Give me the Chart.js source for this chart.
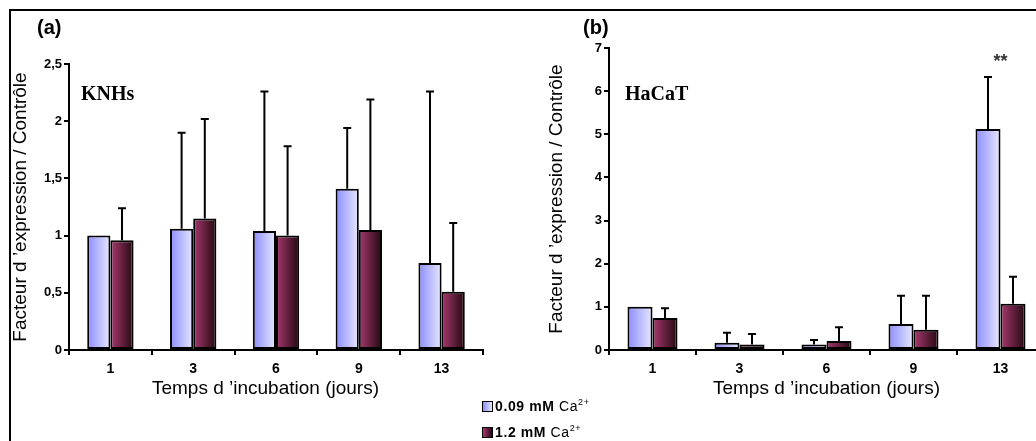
<!DOCTYPE html>
<html>
<head>
<meta charset="utf-8">
<script src="https://cdn.jsdelivr.net/npm/chart.js@4.4.1/dist/chart.umd.min.js"></script>
<style>
  body { margin: 0; width: 1036px; height: 441px; overflow: hidden; position: relative; background: #fff; font-family: "Liberation Sans", Arial, sans-serif; }
  #frame { position: absolute; left: 9px; top: 9px; width: 1100px; height: 500px; border-left: 2px solid #000; border-top: 2px solid #000; }
  canvas { position: absolute; left: 0; top: 0; }
  #legend { position: absolute; left: 482px; top: 394px; font-size: 14px; letter-spacing: 0.6px; color: #000; }
  #legend div { height: 26px; line-height: 16px; white-space: nowrap; }
  #legend .sw { display: inline-block; width: 9px; height: 9px; border: 1px solid #000; vertical-align: -1px; margin-right: 2px; }
  #legend sup { font-size: 9px; }
</style>
</head>
<body>
<div id="frame"></div>
<canvas id="chartA" width="1036" height="441"></canvas>
<canvas id="chartB" width="1060" height="441"></canvas>
<div id="legend"></div>
<script>
// données
const categories = ['1', '3', '6', '9', '13'];
const seriesNames = ['0.09 mM', '1.2 mM'];
const ion = 'Ca';
const ionCharge = '2+';

// (a) KNHs
const knhsLow = [1.0, 1.06, 1.04, 1.41, 0.76];
const knhsHigh = [0.96, 1.15, 1.0, 1.05, 0.51];
const knhsLowErr = [0, 0.84, 1.22, 0.53, 1.50];
const knhsHighErr = [0.28, 0.87, 0.78, 1.14, 0.60];
const knhsTicks = ['0', '0,5', '1', '1,5', '2', '2,5'];

// (b) HaCaT
const hacatLow = [1.0, 0.17, 0.13, 0.60, 5.12];
const hacatHigh = [0.74, 0.13, 0.21, 0.47, 1.07];
const hacatLowErr = [0, 0.23, 0.10, 0.66, 1.21];
const hacatHighErr = [0.23, 0.24, 0.32, 0.79, 0.63];
const hacatTicks = ['0', '1', '2', '3', '4', '5', '6', '7'];

const xTitle = 'Temps d \u2019incubation (jours)';
const yTitle = 'Facteur d \u2019expression / Contrôle';

const lowColors = ['#8c8cff', '#e8e8ff'];
const highColors = ['#a8386e', '#220810'];
const FONT = '"Liberation Sans", Arial, sans-serif';

// dégradé horizontal sur chaque barre (positions prises sur l'élément)
function barFill(colors) {
  return function (ctx) {
    const el = ctx.element;
    if (!el || el.x == null || isNaN(el.x) || !el.width) return colors[0];
    const g = ctx.chart.ctx.createLinearGradient(el.x - el.width / 2, 0, el.x + el.width / 2, 0);
    g.addColorStop(0, colors[0]);
    g.addColorStop(1, colors[1]);
    return g;
  };
}

const errorBars = {
  id: 'errorBars',
  afterDatasetsDraw(chart) {
    const ctx = chart.ctx;
    const y = chart.scales.y;
    ctx.save();
    ctx.strokeStyle = '#000';
    ctx.lineWidth = 2;
    chart.data.datasets.forEach((ds, di) => {
      chart.getDatasetMeta(di).data.forEach((bar, i) => {
        const e = ds.errors[i];
        if (!e) return;
        const top = y.getPixelForValue(ds.data[i] + e);
        ctx.beginPath();
        ctx.moveTo(bar.x, bar.y);
        ctx.lineTo(bar.x, top);
        ctx.moveTo(bar.x - 4, top);
        ctx.lineTo(bar.x + 4, top);
        ctx.stroke();
      });
    });
    ctx.restore();
  }
};

const panelText = {
  id: 'panelText',
  afterDraw(chart, args, opts) {
    const ctx = chart.ctx;
    const area = chart.chartArea;
    ctx.save();
    ctx.fillStyle = '#000';
    ctx.textBaseline = 'middle';
    ctx.font = 'bold 20px ' + FONT;
    ctx.fillText(opts.panel, area.left - opts.panelDx, 28);
    ctx.textBaseline = 'alphabetic';
    ctx.font = 'bold 20px "Liberation Serif", "Times New Roman", serif';
    ctx.fillText(opts.cell, area.left + opts.cellDx, 100);
    if (opts.star) {
      const i = opts.star.index;
      const ds = chart.data.datasets[0];
      const x = chart.scales.x.getPixelForValue(i);
      const y = chart.scales.y.getPixelForValue(ds.data[i] + ds.errors[i]);
      ctx.fillStyle = '#333';
      ctx.font = 'bold 18px ' + FONT;
      ctx.textAlign = 'center';
      ctx.textBaseline = 'middle';
      ctx.fillText(opts.star.text, x, y - 15);
    }
    ctx.restore();
  }
};

function makeChart(id, cfg) {
  const chart = new Chart(document.getElementById(id), {
    type: 'bar',
    data: {
      labels: categories,
      datasets: [
        { label: seriesNames[0], data: cfg.low, errors: cfg.lowErr, backgroundColor: barFill(lowColors) },
        { label: seriesNames[1], data: cfg.high, errors: cfg.highErr, backgroundColor: barFill(highColors) }
      ].map(d => Object.assign(d, {
        borderColor: '#000',
        borderWidth: 2,
        borderSkipped: false,
        barPercentage: 1,
        categoryPercentage: cfg.catPct
      }))
    },
    options: {
      responsive: false,
      animation: false,
      events: [],
      layout: { padding: cfg.padding },
      plugins: {
        legend: { display: false },
        tooltip: { enabled: false },
        panelText: cfg.text
      },
      scales: {
        x: {
          afterFit(s) { s.height = 50; },
          grid: { display: true, offset: true, drawOnChartArea: false, drawTicks: true, tickLength: 5, color: '#000', lineWidth: 2 },
          border: { display: true, color: '#000', width: 2 },
          ticks: { color: '#000', font: { family: FONT, size: 14, weight: 'bold' }, padding: 6 },
          title: { display: true, text: cfg.xTitle, color: '#000', font: { family: FONT, size: 19 }, padding: 0 }
        },
        y: {
          min: 0,
          max: cfg.max,
          afterFit(s) { s.width = 69; },
          ticks: { stepSize: cfg.step, color: '#000', font: { family: FONT, size: 13, weight: 'bold' }, padding: 2,
                   callback: (v, i) => cfg.ticks[i] },
          grid: { display: true, drawOnChartArea: false, drawTicks: true, tickLength: 5, color: '#000', lineWidth: 2 },
          border: { display: true, color: '#000', width: 2 },
          title: { display: true, text: yTitle, color: '#000', font: { family: FONT, size: 19 }, padding: { top: cfg.yTitlePad, bottom: 0 } }
        }
      }
    },
    plugins: [errorBars, panelText]
  });
  chart.update('none');
  return chart;
}

makeChart('chartA', {
  low: knhsLow, high: knhsHigh, lowErr: knhsLowErr, highErr: knhsHighErr,
  max: 2.5, step: 0.5, ticks: knhsTicks, catPct: 0.56,
  padding: { left: 0, right: 1036 - 483, top: 64, bottom: 41 },
  yTitlePad: 9, xTitle: xTitle + '\u00a0'.repeat(4),
  text: { panel: '(a)', panelDx: 32, cell: 'KNHs', cellDx: 12 }
});

makeChart('chartB', {
  low: hacatLow, high: hacatHigh, lowErr: hacatLowErr, highErr: hacatHighErr,
  max: 7, step: 1, ticks: hacatTicks, catPct: 0.575,
  padding: { left: 540, right: 16, top: 48, bottom: 41 },
  yTitlePad: 5, xTitle: xTitle,
  text: { panel: '(b)', panelDx: 26, cell: 'HaCaT', cellDx: 16, star: { index: 4, text: '**' } }
});

// légende
const legend = document.getElementById('legend');
seriesNames.forEach((name, i) => {
  const c = i === 0 ? lowColors : highColors;
  const row = document.createElement('div');
  row.innerHTML = '<span class="sw" style="background:linear-gradient(to right,' + c[0] + ',' + c[1] + ')"></span>' +
    '<b>' + name + '</b> ' + ion + '<sup>' + ionCharge + '</sup>';
  legend.appendChild(row);
});
</script>
</body>
</html>
